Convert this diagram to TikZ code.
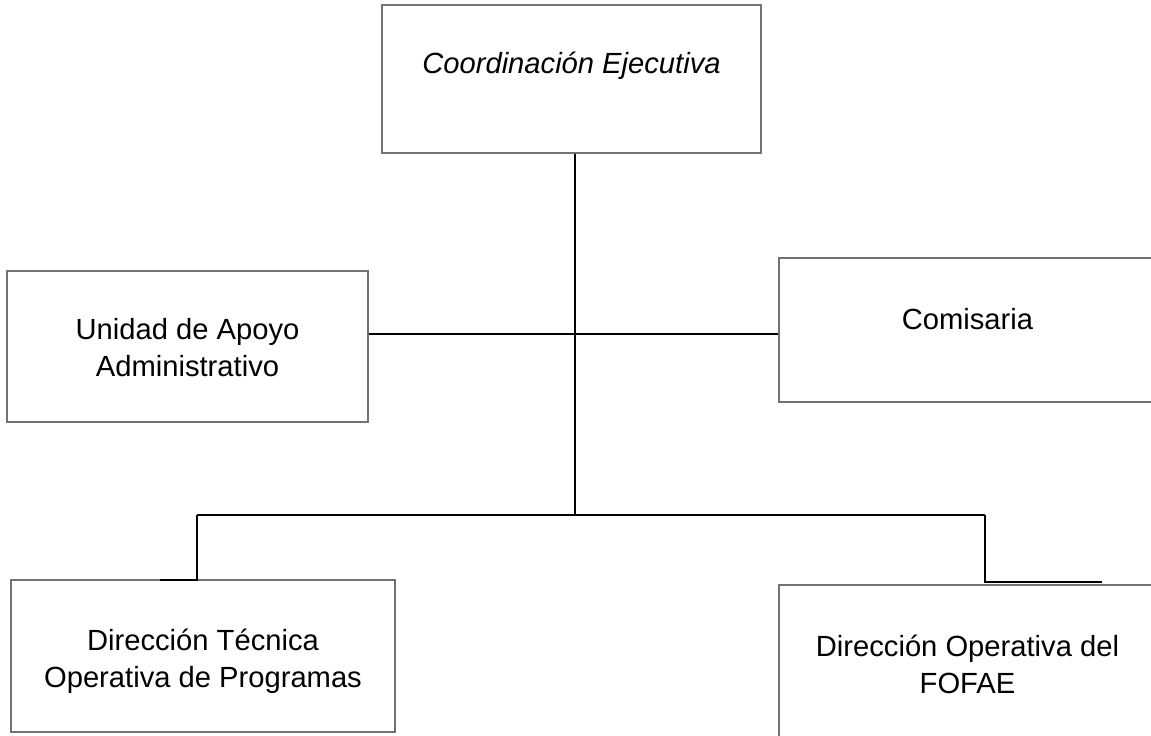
\documentclass[tikz,border=0pt]{standalone}
\usepackage{fontspec}
\setmainfont{Liberation Sans}
\usetikzlibrary{positioning}

\begin{document}
\begin{tikzpicture}[
    unit/.style={rectangle, draw=black!55, line width=0.6pt, inner sep=0pt},
    txt/.style={align=center, inner sep=0pt, font=\fontsize{16.6}{21}\selectfont},
    link/.style={draw=black, line width=0.9pt},
    bar/.style={draw=black, line width=1.4pt}
]
\useasboundingbox (0,0) rectangle (23.02,14.72);

% Boxes
\node[unit, minimum width=7.58cm, minimum height=2.96cm] (coord) at (11.43, 13.14) {};
\node[txt, font=\fontsize{16.6}{21}\selectfont\itshape] (coordtxt) at (11.43, 13.40) {Coordinación Ejecutiva};

\node[unit, minimum width=7.22cm, minimum height=3.02cm] (uaa) at (3.75, 7.79) {};
\node[txt] (uaatxt) at (3.75, 7.77) {Unidad de Apoyo\\Administrativo};

\node[unit, minimum width=7.54cm, minimum height=2.88cm] (com) at (19.35, 8.12) {};
\node[txt] (comtxt) at (19.35, 8.34) {Comisaria};

\node[unit, minimum width=7.68cm, minimum height=3.04cm] (dtop) at (4.06, 1.60) {};
\node[txt] (dtoptxt) at (4.06, 1.49) {Dirección Técnica\\Operativa de Programas};

\node[unit, minimum width=7.54cm, minimum height=3.16cm] (dof) at (19.35, 1.44) {};
\node[txt] (doftxt) at (19.35, 1.44) {Dirección Operativa del\\FOFAE};

% Junctions
\coordinate (cross) at (11.50, 8.04);
\coordinate (split) at (11.50, 4.42);
\coordinate (ldrop) at (3.94, 3.12);
\coordinate (lend) at (3.20, 3.12);
\coordinate (rdrop) at (19.70, 3.08);
\coordinate (rend) at (22.04, 3.08);

% Connectors
\draw[link] (coord.south -| split) -- (split);
\draw[bar] (uaa.east |- cross) -- (com.west |- cross);
\draw[link] (ldrop |- split) -- (rdrop |- split);
\draw[link] (ldrop |- split) -- (ldrop) -- (lend);
\draw[link] (rdrop |- split) -- (rdrop) -- (rend);

\end{tikzpicture}
\end{document}
